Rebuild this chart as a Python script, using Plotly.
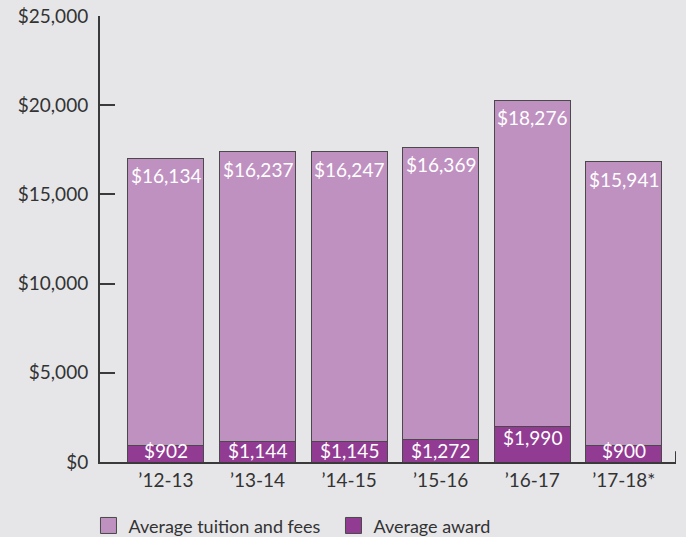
import plotly.graph_objects as go

# Academic years and the two stacked series (US dollars)
years = ["\u201912-13", "\u201913-14", "\u201914-15", "\u201915-16", "\u201916-17", "\u201917-18*"]
award = [902, 1144, 1145, 1272, 1990, 900]
tuition = [16134, 16237, 16247, 16369, 18276, 15941]
y_ticks = [0, 5000, 10000, 15000, 20000, 25000]

BG = "#e6e6e9"
TUITION_COLOR = "#bf91c1"
AWARD_COLOR = "#923b93"
EDGE = "#4a4a4a"
AXIS = "#3a3a3a"
FONT = "Lato"
Y_MAX = 25000

fig = go.Figure()

fig.add_bar(x=years, y=award, name="Average award", width=0.83,
            marker=dict(color=AWARD_COLOR, line=dict(color=EDGE, width=1)),
            showlegend=False, hoverinfo="skip")
fig.add_bar(x=years, y=tuition, name="Average tuition and fees", width=0.83,
            marker=dict(color=TUITION_COLOR, line=dict(color=EDGE, width=1)),
            showlegend=False, hoverinfo="skip")

# Legend entries drawn with larger square swatches
for name, color in [("Average tuition and fees", TUITION_COLOR), ("Average award", AWARD_COLOR)]:
    fig.add_scatter(x=[None], y=[None], mode="markers", name=name,
                    marker=dict(symbol="square", size=16, color=color,
                                line=dict(color=EDGE, width=1)))

# Value labels: tuition at the top of each bar, award inside the lower segment
inset = Y_MAX * 0.025   # keeps award labels clear of the baseline
annotations = []
for yr, a, t in zip(years, award, tuition):
    annotations.append(dict(x=yr, y=a + t, text=f"${t:,}", showarrow=False,
                            yanchor="top", yshift=-4,
                            font=dict(family=FONT, size=19, color="white")))
    annotations.append(dict(x=yr, y=max(a - 620, inset), text=f"${a:,}", showarrow=False,
                            yanchor="middle",
                            font=dict(family=FONT, size=19, color="white")))

fig.update_layout(
    width=686, height=537,
    margin=dict(l=100, r=10, t=16, b=75, autoexpand=False),
    paper_bgcolor=BG, plot_bgcolor=BG,
    barmode="stack",
    font=dict(family=FONT, size=18, color="#333333"),
    annotations=annotations,
    legend=dict(orientation="h", x=-0.02, xanchor="left", y=-0.143, yanchor="middle",
                traceorder="normal", entrywidth=200,
                font=dict(family=FONT, size=18, color="#333333"),
                bgcolor="rgba(0,0,0,0)", itemwidth=30),
    shapes=[dict(type="line", xref="x", yref="paper", x0=5.57, x1=5.57, y0=0, y1=0.024,
                 line=dict(color=AXIS, width=2))],
)

fig.update_xaxes(range=[-0.72, 5.57], showline=True, linecolor=AXIS, linewidth=2,
                 ticks="", showgrid=False, zeroline=False,
                 tickfont=dict(family=FONT, size=19, color="#333333"))
fig.update_yaxes(range=[0, Y_MAX], tickvals=y_ticks, tickformat="$,",
                 showline=True, linecolor=AXIS, linewidth=2,
                 ticks="inside", ticklen=15, tickwidth=2, tickcolor=AXIS,
                 ticklabelstandoff=6,
                 showgrid=False, zeroline=False,
                 tickfont=dict(family=FONT, size=19, color="#333333"))

fig.write_html("out.html")
